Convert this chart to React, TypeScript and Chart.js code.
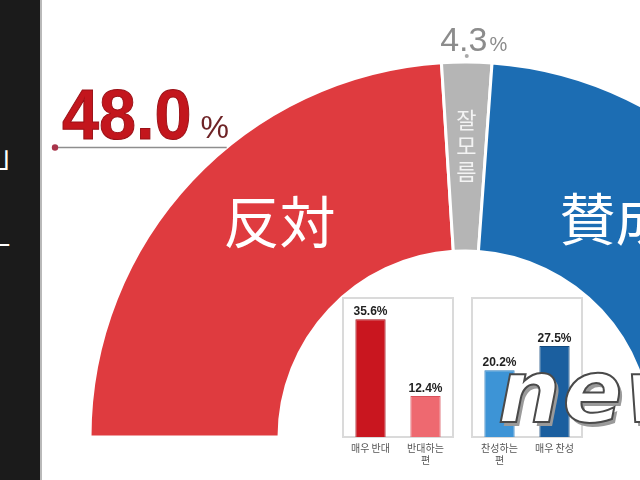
import { useEffect, useRef } from "react";
import { Chart, registerables } from "chart.js";

Chart.register(...registerables);

// ---- data ----
const sliceLabels = ["反対", "잘모름", "賛成"];
const sliceValues = [48.0, 4.3, 47.7];
const sliceColors = ["#df3b3f", "#b5b5b5", "#1c6db3"];
const valueTexts = ["48.0", "4.3", "47.7"];

const opposeCategories = [["매우 반대"], ["반대하는", "편"]];
const opposeValues = [35.6, 12.4];
const opposeColors = ["#c9161f", "#ee6970"];
const opposeBorders = ["#9e0f16", "#d9505a"];

const supportCategories = [["찬성하는", "편"], ["매우 찬성"]];
const supportValues = [20.2, 27.5];
const supportColors = ["#3d94d6", "#1b5f9f"];
const supportBorders = ["#2c7cbc", "#134a7e"];

const BAR_MAX = 42;

// ---- plugins ----
const donutText = {
  id: "donutText",
  afterDatasetsDraw(chart: any) {
    const ctx = chart.ctx as CanvasRenderingContext2D;
    const arcs = chart.getDatasetMeta(0).data;
    const angFrac = [0.57, 0.5, 0.354];
    const radFrac = [0.52, 0.56, 0.42];
    ctx.save();
    arcs.forEach((arc: any, i: number) => {
      const p = arc.getProps(["x", "y", "startAngle", "endAngle", "innerRadius", "outerRadius"], true);
      const a = p.startAngle + (p.endAngle - p.startAngle) * angFrac[i];
      const r = p.innerRadius + (p.outerRadius - p.innerRadius) * radFrac[i];
      const lx = p.x + Math.cos(a) * r;
      const ly = p.y + Math.sin(a) * r;
      ctx.fillStyle = "#ffffff";
      ctx.textAlign = "center";
      ctx.textBaseline = "middle";
      if (i === 1) {
        ctx.font = "22px 'Noto Sans CJK KR'";
        ctx.fillStyle = "#f3f3f3";
        const chars = Array.from(sliceLabels[i]);
        chars.forEach((c, k) => {
          ctx.fillText(c, lx, ly + (k - (chars.length - 1) / 2) * 26);
        });
        // value above the slice
        const mx = p.x + Math.cos(a) * p.outerRadius;
        const my = p.y + Math.sin(a) * p.outerRadius;
        ctx.fillStyle = "#a9a9a9";
        ctx.beginPath();
        ctx.arc(mx, my - 6, 2, 0, Math.PI * 2);
        ctx.fill();
        ctx.font = "34px 'Liberation Sans'";
        const w1 = ctx.measureText(valueTexts[i]).width;
        ctx.textAlign = "left";
        ctx.textBaseline = "alphabetic";
        ctx.fillStyle = "#8c8c8c";
        const sx = mx - w1 / 2 - 3;
        ctx.fillText(valueTexts[i], sx, my - 11);
        ctx.font = "20px 'Liberation Sans'";
        ctx.fillText("%", sx + w1 + 2, my - 11);
      } else {
        ctx.font = "56px 'Noto Sans CJK JP'";
        ctx.fillText(sliceLabels[i], lx, ly);
      }
      if (i === 0) {
        const la = p.startAngle + (p.endAngle - p.startAngle) * 0.585;
        const ox = p.x + Math.cos(la) * p.outerRadius;
        const oy = p.y + Math.sin(la) * p.outerRadius;
        const endX = 55;
        ctx.strokeStyle = "#8e8e8e";
        ctx.lineWidth = 1.5;
        ctx.beginPath();
        ctx.moveTo(endX, oy);
        ctx.lineTo(ox, oy);
        ctx.stroke();
        ctx.fillStyle = "#a8344a";
        ctx.beginPath();
        ctx.arc(endX, oy, 3.2, 0, Math.PI * 2);
        ctx.fill();
        ctx.textAlign = "left";
        ctx.textBaseline = "alphabetic";
        const tx = endX + 7;
        const by = oy - 8;
        const sc = 0.95;
        ctx.save();
        ctx.translate(tx, by);
        ctx.scale(sc, 1);
        ctx.font = "bold 70px 'Liberation Sans'";
        ctx.fillStyle = "#c3161d";
        ctx.strokeStyle = "#9a1016";
        ctx.lineWidth = 1;
        ctx.fillText(valueTexts[i], 0, 0);
        ctx.strokeText(valueTexts[i], 0, 0);
        const w = ctx.measureText(valueTexts[i]).width * sc;
        ctx.restore();
        ctx.font = "32px 'Liberation Sans'";
        ctx.fillStyle = "#6e2326";
        ctx.fillText("%", tx + w + 9, by - 1);
      }
    });
    ctx.restore();
  },
};

const barDecor = {
  id: "barDecor",
  beforeDatasetsDraw(chart: any) {
    const { ctx, chartArea } = chart;
    const { left, top, right, bottom } = chartArea;
    ctx.save();
    ctx.strokeStyle = "#dadada";
    ctx.lineWidth = 2;
    ctx.strokeRect(left, top, right - left, bottom - top);
    ctx.restore();
  },
  afterDatasetsDraw(chart: any) {
    const ctx = chart.ctx as CanvasRenderingContext2D;
    const meta = chart.getDatasetMeta(0);
    const vals = chart.data.datasets[0].data as number[];
    ctx.save();
    ctx.font = "bold 12px 'Liberation Sans Narrow', 'Liberation Sans'";
    ctx.fillStyle = "#222";
    ctx.textAlign = "center";
    ctx.textBaseline = "alphabetic";
    meta.data.forEach((bar: any, i: number) => {
      ctx.fillText(vals[i].toFixed(1) + "%", bar.x, bar.y - 4);
    });
    ctx.restore();
  },
};

function makeBar(canvas: HTMLCanvasElement, labels: string[][], values: number[], colors: string[], borders: string[]) {
  return new Chart(canvas, {
    type: "bar",
    data: {
      labels,
      datasets: [
        {
          data: values,
          backgroundColor: colors,
          borderColor: borders,
          borderWidth: 1,
          barPercentage: 0.55,
          categoryPercentage: 1,
        },
      ],
    },
    options: {
      responsive: false,
      animation: false,
      layout: { padding: { left: 8, right: 12, top: 8, bottom: 3 } },
      plugins: { legend: { display: false }, tooltip: { enabled: false } },
      scales: {
        x: {
          grid: { display: false, drawTicks: false },
          border: { display: false },
          ticks: {
            color: "#555",
            font: { size: 10, family: "'Noto Sans CJK KR'" },
            padding: 5,
            autoSkip: false,
            maxRotation: 0,
          },
          afterFit: (s: any) => {
            s.height = 40;
          },
        },
        y: { display: false, min: 0, max: BAR_MAX },
      },
    },
    plugins: [barDecor],
  });
}

export default function App() {
  const donutRef = useRef<HTMLCanvasElement>(null);
  const leftRef = useRef<HTMLCanvasElement>(null);
  const rightRef = useRef<HTMLCanvasElement>(null);

  useEffect(() => {
    const donut = new Chart(donutRef.current!, {
      type: "doughnut",
      data: {
        labels: sliceLabels,
        datasets: [
          {
            data: sliceValues,
            backgroundColor: sliceColors,
            borderColor: "#ffffff",
            borderWidth: 3,
          },
        ],
      },
      options: {
        responsive: false,
        animation: false,
        rotation: -90,
        circumference: 180,
        radius: 375,
        cutout: "49.6%",
        layout: { padding: { left: 90, right: 90, top: 62, bottom: 43 } },
        plugins: { legend: { display: false }, tooltip: { enabled: false } },
      },
      plugins: [donutText],
    });
    const left = makeBar(leftRef.current!, opposeCategories, opposeValues, opposeColors, opposeBorders);
    const right = makeBar(rightRef.current!, supportCategories, supportValues, supportColors, supportBorders);
    return () => {
      donut.destroy();
      left.destroy();
      right.destroy();
    };
  }, []);

  return (
    <div
      style={{
        position: "fixed",
        left: 0,
        top: 0,
        width: 640,
        height: 480,
        overflow: "hidden",
        background: "#ffffff",
      }}
    >
      <canvas
        ref={donutRef}
        width={930}
        height={480}
        style={{ position: "absolute", left: 0, top: 0, width: 930, height: 480 }}
      />
      <canvas
        ref={leftRef}
        width={130}
        height={190}
        style={{ position: "absolute", left: 335, top: 290, width: 130, height: 190 }}
      />
      <canvas
        ref={rightRef}
        width={130}
        height={190}
        style={{ position: "absolute", left: 464, top: 290, width: 130, height: 190 }}
      />
      <div
        style={{
          position: "absolute",
          left: 0,
          top: 0,
          width: 40,
          height: 480,
          background: "#1b1b1b",
          borderRight: "2px solid #b9b9b9",
          overflow: "hidden",
          color: "#ffffff",
          fontFamily: "'Noto Sans CJK KR'",
        }}
      >
        <span style={{ position: "absolute", left: -3, top: 134, fontSize: 30, lineHeight: "40px" }}>」</span>
        <span style={{ position: "absolute", left: -17, top: 226, fontSize: 30, lineHeight: "40px" }}>ㅜ</span>
      </div>
      <span
        style={{
          position: "absolute",
          left: 498,
          top: 348,
          fontFamily: "'DejaVu Sans'",
          fontWeight: "bold",
          fontStyle: "italic",
          fontSize: 88,
          lineHeight: "88px",
          color: "#ffffff",
          WebkitTextStroke: "2px #4a4a4a",
          textShadow: "3px 4px 0 #9a9a9a",
          whiteSpace: "nowrap",
          letterSpacing: 2,
        }}
      >
        news1
      </span>
    </div>
  );
}
